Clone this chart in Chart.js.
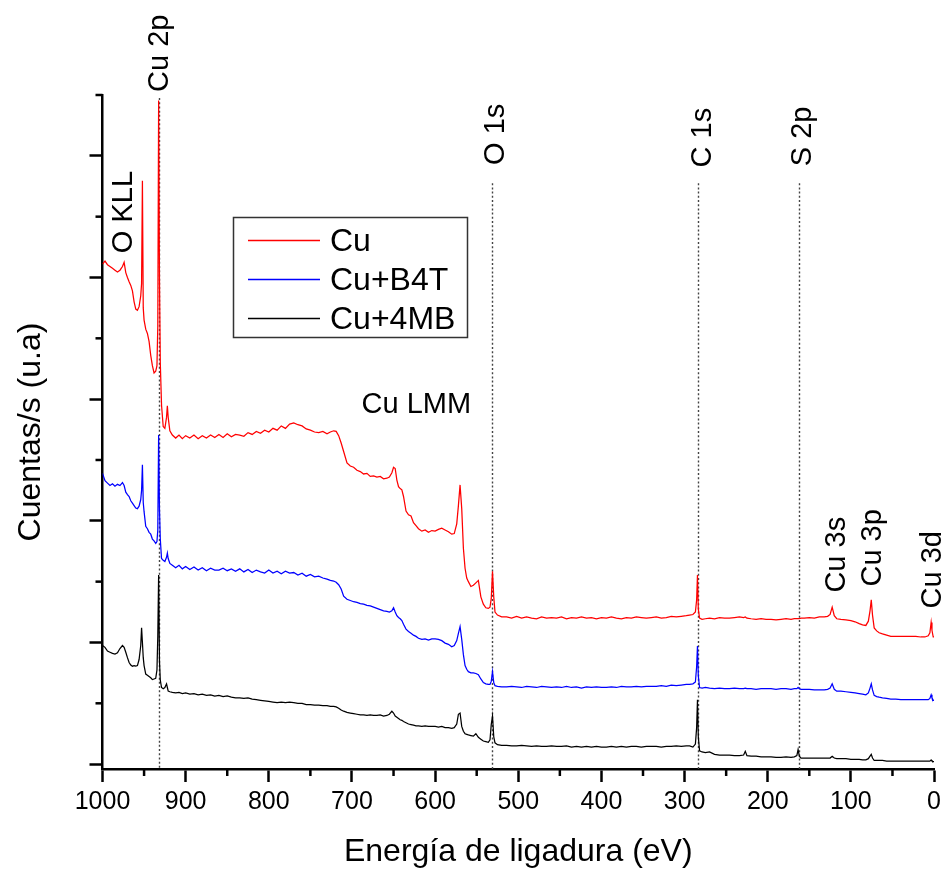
<!DOCTYPE html>
<html>
<head>
<meta charset="utf-8">
<script src="https://cdn.jsdelivr.net/npm/chart.js@4.4.1/dist/chart.umd.min.js"></script>
<style>
  html, body { margin: 0; padding: 0; background: #fff; }
  canvas { display: block; }
</style>
</head>
<body>
<canvas id="xps" width="946" height="869"></canvas>
<script>
// Binding energy grid (eV), shared by the three survey spectra
const energies = [
  1000, 997, 994, 991, 988, 985, 982, 979, 976, 974,
  972, 970, 968, 966, 964, 962, 960, 958, 956, 954,
  953, 952, 951, 950, 948, 946, 944, 942, 940, 938,
  936, 934.5, 933.5, 932.5, 931.5, 930.5, 929, 927, 925, 923,
  922, 921, 919, 916, 912, 908, 904, 900, 895, 890,
  885, 880, 875, 870, 865, 860, 855, 850, 845, 840,
  835, 830, 825, 820, 815, 810, 805, 800, 795, 790,
  785, 780, 775, 770, 765, 760, 755, 750, 745, 740,
  735, 730, 726, 722, 719, 716, 713, 710, 706, 702,
  698, 694, 690, 686, 682, 678, 674, 670, 666, 662,
  658, 655, 652, 650, 648, 646, 644, 642, 640, 638,
  635, 632, 629, 626, 623, 620, 616, 612, 608, 604,
  600, 596, 592, 588, 584, 580, 577, 574, 572, 570,
  568, 566, 564, 562, 560, 557, 554, 551, 548, 545,
  542, 539, 536, 534, 532.5, 531, 529.5, 528, 525, 520,
  514, 508, 502, 496, 490, 484, 478, 472, 466, 460,
  454, 448, 442, 436, 430, 424, 418, 412, 406, 400,
  394, 388, 382, 376, 370, 364, 358, 352, 346, 340,
  334, 328, 322, 316, 310, 304, 298, 294, 290, 287,
  285.5, 284.5, 283.5, 282, 279, 275, 270, 264, 258, 252,
  246, 240, 234, 229, 227, 225, 220, 214, 208, 202,
  196, 190, 184, 178, 172, 168, 165, 163.5, 162, 160,
  156, 150, 144, 138, 132, 128, 125, 122.5, 120, 117,
  112, 106, 100, 95, 90, 86, 82, 79, 77, 75.5,
  74, 72, 69, 66, 62, 57, 52, 46, 40, 34,
  28, 22, 16, 11, 7, 5, 3.5, 2.5, 1, 0
];

// Intensities in arbitrary units (spectra stacked with an offset)
const cuCounts = [
  8.22, 8.27, 8.21, 8.18, 8.15, 8.12, 8.09, 8.12, 8.18, 8.25,
  8.08, 8.00, 7.93, 7.87, 7.78, 7.60, 7.48, 7.46, 7.52, 7.70,
  7.90, 9.59, 7.50, 7.30, 7.15, 7.08, 6.95, 6.72, 6.55, 6.43,
  6.46, 6.55, 7.20, 10.91, 8.00, 6.60, 5.90, 5.55, 5.52, 5.70,
  5.89, 5.70, 5.48, 5.41, 5.36, 5.41, 5.35, 5.40, 5.36, 5.41,
  5.35, 5.40, 5.36, 5.41, 5.37, 5.42, 5.37, 5.43, 5.38, 5.42,
  5.41, 5.39, 5.45, 5.42, 5.47, 5.44, 5.49, 5.46, 5.52, 5.49,
  5.56, 5.52, 5.59, 5.61, 5.58, 5.56, 5.51, 5.49, 5.46, 5.45,
  5.47, 5.43, 5.46, 5.48, 5.47, 5.40, 5.28, 5.14, 4.95, 4.90,
  4.88, 4.83, 4.81, 4.77, 4.78, 4.73, 4.74, 4.72, 4.73, 4.69,
  4.70, 4.72, 4.79, 4.88, 4.86, 4.67, 4.56, 4.53, 4.51, 4.40,
  4.16, 4.10, 4.08, 3.97, 3.92, 3.87, 3.83, 3.85, 3.81, 3.84,
  3.83, 3.86, 3.88, 3.85, 3.82, 3.78, 3.79, 3.95, 4.25, 4.59,
  4.20, 3.55, 3.22, 3.06, 3.00, 2.92, 2.94, 2.98, 3.02, 2.75,
  2.63, 2.57, 2.56, 2.58, 2.72, 3.17, 2.75, 2.50, 2.45, 2.42,
  2.42, 2.40, 2.43, 2.40, 2.42, 2.40, 2.39, 2.42, 2.40, 2.41,
  2.40, 2.42, 2.39, 2.41, 2.40, 2.42, 2.40, 2.41, 2.39, 2.41,
  2.40, 2.42, 2.40, 2.39, 2.41, 2.40, 2.42, 2.41, 2.40, 2.41,
  2.42, 2.40, 2.41, 2.43, 2.42, 2.43, 2.44, 2.45, 2.46, 2.50,
  2.70, 3.11, 2.55, 2.40, 2.38, 2.39, 2.40, 2.39, 2.41, 2.40,
  2.40, 2.41, 2.42, 2.41, 2.42, 2.40, 2.39, 2.38, 2.39, 2.38,
  2.38, 2.37, 2.38, 2.39, 2.38, 2.39, 2.39, 2.39, 2.39, 2.40,
  2.40, 2.41, 2.40, 2.42, 2.42, 2.43, 2.46, 2.58, 2.44, 2.39,
  2.38, 2.37, 2.36, 2.34, 2.31, 2.29, 2.28, 2.35, 2.52, 2.70,
  2.45, 2.24, 2.19, 2.16, 2.14, 2.12, 2.10, 2.10, 2.10, 2.10,
  2.10, 2.10, 2.09, 2.09, 2.11, 2.16, 2.33, 2.20, 2.09, 2.09
];

const b4tCounts = [
  4.78, 4.66, 4.62, 4.58, 4.61, 4.57, 4.60, 4.58, 4.63, 4.58,
  4.47, 4.43, 4.40, 4.33, 4.29, 4.25, 4.21, 4.20, 4.24, 4.35,
  4.50, 4.92, 4.30, 4.15, 3.91, 3.87, 3.81, 3.78, 3.70, 3.67,
  3.63, 3.66, 3.85, 5.41, 4.20, 3.70, 3.38, 3.35, 3.33, 3.40,
  3.47, 3.38, 3.30, 3.27, 3.23, 3.27, 3.21, 3.25, 3.20, 3.24,
  3.19, 3.23, 3.18, 3.22, 3.19, 3.19, 3.22, 3.18, 3.21, 3.17,
  3.21, 3.16, 3.20, 3.15, 3.19, 3.16, 3.14, 3.19, 3.14, 3.17,
  3.13, 3.17, 3.14, 3.15, 3.11, 3.14, 3.09, 3.12, 3.08, 3.09,
  3.06, 3.04, 3.02, 3.01, 2.99, 2.95, 2.88, 2.76, 2.71, 2.69,
  2.67, 2.66, 2.64, 2.63, 2.61, 2.60, 2.58, 2.56, 2.54, 2.52,
  2.51, 2.50, 2.52, 2.57, 2.50, 2.44, 2.41, 2.39, 2.36, 2.30,
  2.22, 2.18, 2.15, 2.12, 2.10, 2.07, 2.05, 2.06, 2.04, 2.06,
  2.06, 2.05, 2.03, 1.99, 1.97, 1.93, 1.95, 2.03, 2.15, 2.26,
  2.05, 1.80, 1.62, 1.56, 1.52, 1.50, 1.50, 1.49, 1.47, 1.40,
  1.34, 1.32, 1.31, 1.31, 1.36, 1.52, 1.34, 1.29, 1.28, 1.27,
  1.27, 1.28, 1.27, 1.26, 1.28, 1.27, 1.26, 1.28, 1.27, 1.26,
  1.27, 1.26, 1.28, 1.26, 1.27, 1.25, 1.27, 1.26, 1.27, 1.26,
  1.26, 1.27, 1.26, 1.28, 1.27, 1.27, 1.28, 1.27, 1.28, 1.28,
  1.28, 1.29, 1.28, 1.30, 1.29, 1.30, 1.31, 1.31, 1.32, 1.35,
  1.60, 1.94, 1.45, 1.26, 1.25, 1.26, 1.25, 1.24, 1.25, 1.24,
  1.24, 1.25, 1.24, 1.24, 1.25, 1.24, 1.24, 1.23, 1.24, 1.24,
  1.24, 1.23, 1.24, 1.24, 1.23, 1.24, 1.24, 1.26, 1.24, 1.23,
  1.23, 1.23, 1.22, 1.22, 1.22, 1.23, 1.25, 1.32, 1.23, 1.20,
  1.20, 1.19, 1.18, 1.17, 1.16, 1.15, 1.14, 1.17, 1.25, 1.32,
  1.22, 1.13, 1.11, 1.10, 1.09, 1.08, 1.07, 1.07, 1.06, 1.06,
  1.06, 1.06, 1.06, 1.06, 1.06, 1.08, 1.14, 1.09, 1.05, 1.05
];

const mbCounts = [
  1.95, 1.92, 1.86, 1.84, 1.82, 1.81, 1.83, 1.90, 1.95, 1.92,
  1.84, 1.75, 1.67, 1.63, 1.61, 1.62, 1.61, 1.62, 1.72, 1.95,
  2.24, 2.00, 1.75, 1.62, 1.48, 1.46, 1.44, 1.42, 1.39, 1.40,
  1.41, 1.55, 2.10, 3.11, 1.70, 1.38, 1.26, 1.24, 1.26, 1.32,
  1.26, 1.20, 1.19, 1.18, 1.17, 1.18, 1.16, 1.17, 1.15, 1.16,
  1.14, 1.15, 1.13, 1.14, 1.12, 1.13, 1.11, 1.12, 1.10, 1.09,
  1.09, 1.08, 1.09, 1.07, 1.06, 1.05, 1.04, 1.03, 1.02, 1.01,
  1.02, 1.01, 1.02, 1.01, 1.00, 1.00, 0.98, 0.98, 0.97, 0.97,
  0.96, 0.96, 0.95, 0.95, 0.94, 0.92, 0.89, 0.87, 0.85, 0.84,
  0.83, 0.82, 0.81, 0.81, 0.80, 0.81, 0.80, 0.80, 0.81, 0.79,
  0.80, 0.82, 0.87, 0.84, 0.79, 0.77, 0.75, 0.73, 0.72, 0.70,
  0.68, 0.66, 0.65, 0.64, 0.63, 0.63, 0.62, 0.63, 0.62, 0.62,
  0.62, 0.61, 0.62, 0.60, 0.60, 0.59, 0.60, 0.66, 0.82, 0.84,
  0.62, 0.54, 0.50, 0.49, 0.48, 0.47, 0.46, 0.50, 0.44, 0.41,
  0.38, 0.37, 0.36, 0.40, 0.65, 0.79, 0.45, 0.35, 0.32, 0.31,
  0.31, 0.30, 0.30, 0.31, 0.30, 0.29, 0.30, 0.29, 0.29, 0.30,
  0.29, 0.29, 0.30, 0.28, 0.29, 0.28, 0.29, 0.28, 0.29, 0.28,
  0.28, 0.29, 0.28, 0.29, 0.28, 0.29, 0.29, 0.28, 0.29, 0.29,
  0.29, 0.28, 0.29, 0.29, 0.30, 0.29, 0.30, 0.30, 0.28, 0.33,
  0.60, 1.06, 0.45, 0.22, 0.20, 0.19, 0.20, 0.16, 0.15, 0.15,
  0.15, 0.14, 0.14, 0.15, 0.21, 0.14, 0.13, 0.13, 0.12, 0.12,
  0.12, 0.11, 0.11, 0.12, 0.11, 0.12, 0.14, 0.24, 0.13, 0.10,
  0.10, 0.10, 0.10, 0.10, 0.10, 0.10, 0.10, 0.13, 0.10, 0.09,
  0.09, 0.09, 0.08, 0.08, 0.08, 0.07, 0.07, 0.09, 0.13, 0.16,
  0.10, 0.06, 0.06, 0.06, 0.06, 0.05, 0.05, 0.05, 0.05, 0.05,
  0.05, 0.05, 0.05, 0.05, 0.05, 0.05, 0.07, 0.05, 0.04, 0.04
];

const seriesNames = ['Cu', 'Cu+B4T', 'Cu+4MB'];
const seriesColors = ['#ff0000', '#0000ff', '#000000'];

// Axis ticks: labelled ones come from Chart.js, minor ones are drawn by hand
const yMajorTicks = [0, 2, 4, 6, 8, 10];
const yMinorTicks = [1, 3, 5, 7, 9, 11];
const xMinorTicks = [950, 850, 750, 650, 550, 450, 350, 250, 150, 50];

// Photoelectron lines marked with a dotted guide
const lineNames = ['Cu 2p', 'O 1s', 'C 1s', 'S 2p'];
const lineEnergies = [932.5, 531, 284, 163];

// Other labelled peaks
const peakNames = ['O KLL', 'Cu 3s', 'Cu 3p', 'Cu 3d'];
const peakEnergies = [975, 122, 75.5, 3.3];

const FONT = '"Liberation Sans", Arial, sans-serif';

function verticalText(ctx, text, x, y) {
  ctx.save();
  ctx.translate(x, y);
  ctx.rotate(-Math.PI / 2);
  ctx.textAlign = 'left';
  ctx.textBaseline = 'alphabetic';
  ctx.fillText(text, 0, 0);
  ctx.restore();
}

const decorations = {
  id: 'decorations',
  beforeDatasetsDraw(chart) {
    const { ctx, chartArea, scales: { x, y } } = chart;
    // dotted guides under the spectra
    ctx.save();
    ctx.strokeStyle = '#444';
    ctx.lineWidth = 1.4;
    ctx.setLineDash([2, 2.2]);
    lineEnergies.forEach((e, i) => {
      const px = Math.round(x.getPixelForValue(e)) + 0.5;
      const top = y.getPixelForValue(i === 0 ? 10.95 : 9.55);
      ctx.beginPath();
      ctx.moveTo(px, top);
      ctx.lineTo(px, chartArea.bottom);
      ctx.stroke();
    });
    ctx.restore();
  },
  afterDraw(chart) {
    const { ctx, chartArea, scales: { x, y } } = chart;
    ctx.save();

    // minor ticks
    ctx.strokeStyle = '#000';
    ctx.lineWidth = 2.5;
    xMinorTicks.forEach(v => {
      const px = x.getPixelForValue(v);
      ctx.beginPath();
      ctx.moveTo(px, chartArea.bottom);
      ctx.lineTo(px, chartArea.bottom + 7);
      ctx.stroke();
    });
    yMinorTicks.forEach(v => {
      const py = y.getPixelForValue(v);
      ctx.beginPath();
      ctx.moveTo(chartArea.left, py);
      ctx.lineTo(chartArea.left - 7, py);
      ctx.stroke();
    });

    // peak labels
    ctx.fillStyle = '#000';
    ctx.font = '29px ' + FONT;
    const lineLabelPos = [
      { dx: 9.5, v: 11.05 },
      { dx: 11.5, v: 9.85 },
      { dx: 13, v: 9.81 },
      { dx: 12, v: 9.83 }
    ];
    lineNames.forEach((name, i) => {
      const p = lineLabelPos[i];
      verticalText(ctx, name, x.getPixelForValue(lineEnergies[i]) + p.dx, y.getPixelForValue(p.v));
    });
    const peakLabelPos = [
      { dx: 8.7, v: 8.40 },
      { dx: 12.6, v: 2.82 },
      { dx: 9.4, v: 2.92 },
      { dx: 9.3, v: 2.56 }
    ];
    peakNames.forEach((name, i) => {
      const p = peakLabelPos[i];
      verticalText(ctx, name, x.getPixelForValue(peakEnergies[i]) + p.dx, y.getPixelForValue(p.v));
    });
    ctx.textAlign = 'left';
    ctx.textBaseline = 'alphabetic';
    ctx.fillText('Cu LMM', x.getPixelForValue(688.5), y.getPixelForValue(5.78));

    // legend box
    const lx = 233, ly = 217, lw = 234, lh = 120;
    ctx.fillStyle = '#fff';
    ctx.fillRect(lx, ly, lw, lh);
    ctx.strokeStyle = '#333';
    ctx.lineWidth = 1.5;
    ctx.strokeRect(lx + 0.5, ly + 0.5, lw, lh);
    ctx.font = '32px ' + FONT;
    ctx.textBaseline = 'middle';
    chart.data.datasets.forEach((ds, i) => {
      const rowY = ly + 23.5 + i * 39;
      ctx.strokeStyle = ds.borderColor;
      ctx.lineWidth = 1.3;
      ctx.beginPath();
      ctx.moveTo(lx + 15, rowY);
      ctx.lineTo(lx + 87, rowY);
      ctx.stroke();
      ctx.fillStyle = '#000';
      ctx.fillText(ds.label, lx + 97, rowY + 2);
    });
    ctx.restore();
  }
};

const axisGrid = {
  display: true,
  drawOnChartArea: false,
  drawTicks: true,
  tickLength: 13,
  tickWidth: 2.5,
  tickColor: '#000'
};

new Chart(document.getElementById('xps'), {
  type: 'line',
  data: {
    datasets: [cuCounts, b4tCounts, mbCounts].map((vals, i) => ({
      label: seriesNames[i],
      data: energies.map((e, k) => ({ x: e, y: vals[k] })),
      borderColor: seriesColors[i],
      borderWidth: 1.25,
      pointRadius: 0,
      tension: 0,
      fill: false
    }))
  },
  options: {
    responsive: false,
    animation: false,
    devicePixelRatio: 1,
    layout: { padding: { top: 95, right: 10.5, left: 0, bottom: 0 } },
    plugins: { legend: { display: false }, tooltip: { enabled: false } },
    scales: {
      x: {
        type: 'linear',
        reverse: true,
        min: 0,
        max: 1000,
        border: { display: true, color: '#000', width: 2.5 },
        grid: axisGrid,
        ticks: {
          stepSize: 100,
          autoSkip: false,
          maxRotation: 0,
          color: '#000',
          padding: 5,
          font: { family: FONT, size: 25 },
          callback: v => String(v)
        },
        title: {
          display: true,
          text: 'Energía de ligadura (eV)',
          color: '#000',
          font: { family: FONT, size: 32, lineHeight: 1 },
          padding: { top: 0, bottom: 1 }
        },
        afterFit(scale) { scale.height = 100; }
      },
      y: {
        type: 'linear',
        min: -0.08,
        max: 11,
        border: { display: true, color: '#000', width: 2.5 },
        grid: axisGrid,
        ticks: { display: false },
        afterBuildTicks(scale) {
          scale.ticks = yMajorTicks.map(v => ({ value: v }));
        },
        title: {
          display: true,
          text: 'Cuentas/s (u.a)',
          color: '#000',
          font: { family: FONT, size: 32, lineHeight: 1 },
          padding: { top: 15, bottom: 0 }
        },
        afterFit(scale) { scale.width = 102.5; }
      }
    }
  },
  plugins: [decorations]
});
</script>
</body>
</html>
